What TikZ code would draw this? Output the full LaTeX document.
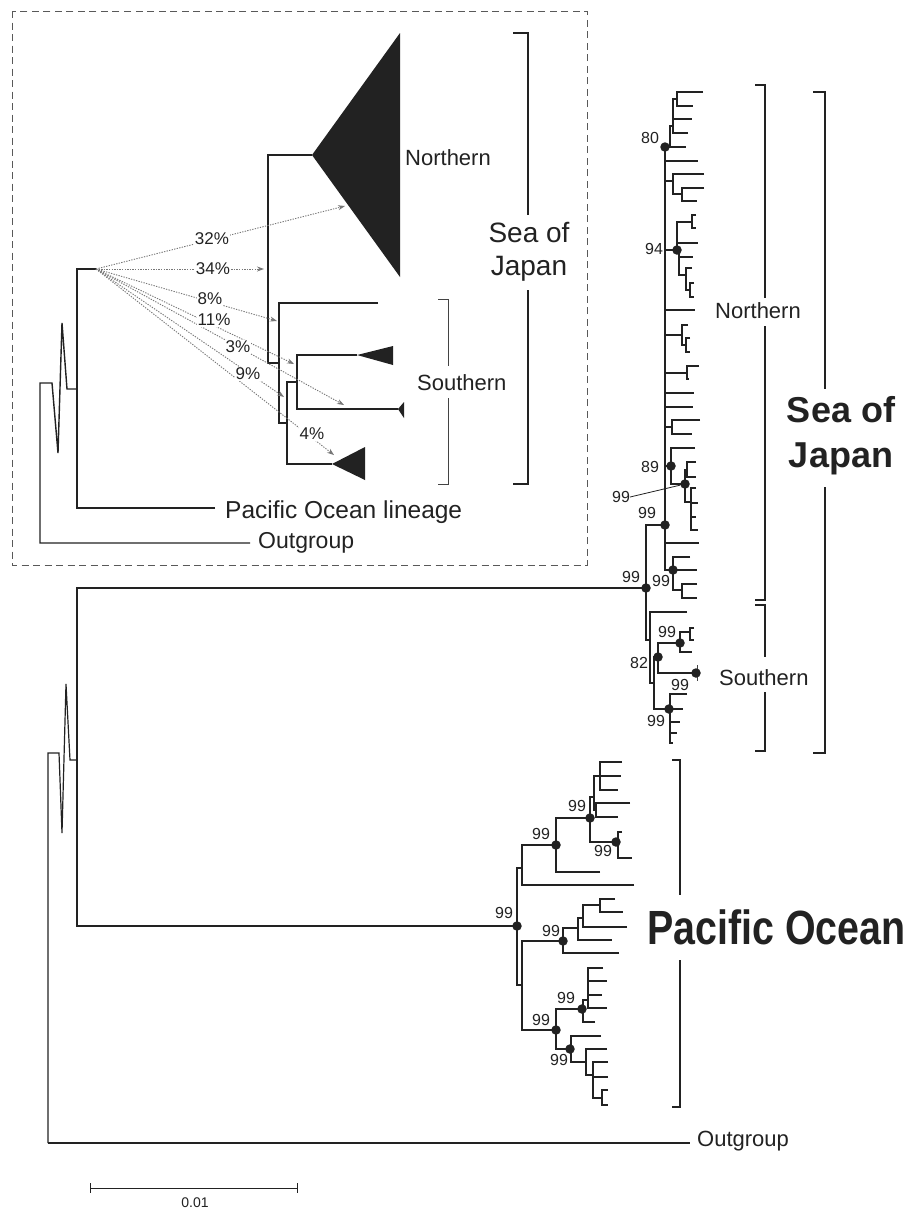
\documentclass[tikz,border=0pt]{standalone}
\usepackage{fontspec}
\setmainfont{Liberation Sans}
\newfontfamily\condsans[FakeStretch=0.82]{Liberation Sans}
\usetikzlibrary{arrows.meta}
\definecolor{ink}{HTML}{222222}
\definecolor{dotgray}{HTML}{777777}
\begin{document}
\begin{tikzpicture}[x=1pt,y=-1pt,
  tr/.style={draw=ink,line width=1.2pt},
  itr/.style={draw=ink,line width=1.4pt},
  tri/.style={fill=ink},
  dotn/.style={circle,fill=ink,inner sep=0pt,minimum size=9.5pt},
  bs/.style={font=\fontsize{16}{16}\selectfont,inner sep=0pt,text=ink},
  lbl/.style={font=\fontsize{22}{22}\selectfont,inner sep=0pt,text=ink},
  ilbl/.style={font=\fontsize{23}{23}\selectfont,inner sep=0pt,text=ink},
  pct/.style={font=\fontsize{17}{17}\selectfont,inner sep=0.6pt,fill=white,text=ink},
  parr/.style={draw=dotgray,line width=0.9pt,dash pattern=on 1.3pt off 1.3pt,-{Stealth[length=7pt,width=5pt]}},
  bigbr/.style={draw=ink,line width=2.6pt},
  midbr/.style={draw=ink,line width=1.4pt},
  thinbr/.style={draw=ink!85,line width=0.9pt},
  boxs/.style={draw=ink!75,line width=0.9pt,dash pattern=on 7pt off 4.5pt},
  sbar/.style={draw=ink,line width=1pt},
]
\fill[white] (0,0) rectangle (918,1211);
\useasboundingbox (0,0) rectangle (918,1211);

% ================= INSET =================
\draw[boxs] (12,11) rectangle (587,565);
\coordinate (src) at (96,269);
\draw[itr] (250,543) -| (40,383) -- (52,383) -- (58,453) -- (62,323) -- (67,389) -- (77,389);
\draw[itr] (215,508) -| (77,269) -- (src);
\node[ilbl,anchor=west] (iog) at (258,543) {Outgroup};
\node[ilbl,anchor=west,font=\fontsize{24.5}{24.5}\selectfont] (ipl) at (225,512) {Pacific Ocean lineage};

\coordinate (iN) at (312,155);
\coordinate (iS1) at (357,355);
\coordinate (iS2) at (398,409);
\coordinate (iS3) at (332,464);
\draw[itr] (iN) -| (268,363) -- (279,363);
\draw[itr] (378,303) -| (279,423) -- (287,423);
\draw[itr] (iS3) -| (287,382) -- (297,382);
\draw[itr] (iS1) -| (297,409) -- (iS2);
\fill[tri] (iN) -- (400,33) -- (400,277) -- cycle;
\fill[tri] (iS1) -- (393,346) -- (393,365) -- cycle;
\fill[tri] (iS2) -- (404,402) -- (404,418) -- cycle;
\fill[tri] (iS3) -- (365,447) -- (365,480) -- cycle;

\draw[parr] (src) -- (345,206);
\draw[parr] (src) -- (264,269);
\draw[parr] (src) -- (277,321);
\draw[parr] (src) -- (294,364);
\draw[parr] (src) -- (344,405);
\draw[parr] (src) -- (284,397);
\draw[parr] (src) -- (334,455);
\node[pct] (p32) at (212,239) {32\%};
\node[pct] (p34) at (213,269) {34\%};
\node[pct] (p8) at (210,299) {8\%};
\node[pct] (p11) at (214,320) {11\%};
\node[pct] (p3) at (238,347) {3\%};
\node[pct] (p9) at (248,374) {9\%};
\node[pct] (p4) at (312,434) {4\%};

\node[lbl,anchor=base west] (iNl) at (405,165) {Northern};
\node[lbl,anchor=base west] (iSl) at (417,390) {Southern};
\draw[thinbr] (438,299) -- (448,299) -- (448,366);
\draw[thinbr] (448,398) -- (448,484) -- (438,484);
\draw[midbr] (513,33) -- (528,33) -- (528,215);
\draw[midbr] (528,290) -- (528,484) -- (513,484);
\node[font=\fontsize{28}{28}\selectfont,inner sep=0pt,text=ink,anchor=base] (isj1) at (529,242) {Sea of};
\node[font=\fontsize{28}{28}\selectfont,inner sep=0pt,text=ink,anchor=base] (isj2) at (529,275) {Japan};

% ================= MAIN TREE =================
\coordinate (sojroot) at (646,588);
\coordinate (n99a) at (665,525);
\coordinate (n80) at (665,147);
\coordinate (n94) at (677,250);
\coordinate (n89) at (671,466);
\coordinate (n99b) at (685,484);
\coordinate (n99c) at (673,570);
\coordinate (n82) at (658,657);
\coordinate (n99d) at (680,643);
\coordinate (n99e) at (696,673);
\coordinate (n99f) at (669,709);
\coordinate (pacroot) at (517,926);
\coordinate (p1) at (556,845);
\coordinate (p2) at (590,818);
\coordinate (p3) at (616,842);
\coordinate (p4) at (563,941);
\coordinate (p5) at (556,1030);
\coordinate (p6) at (582,1009);
\coordinate (p7) at (570,1049);

% backbone
\draw[tr] (48,1143) -- (48,753) -- (59,753) -- (62,833) -- (66,684) -- (70,760) -- (77,760);
\draw[tr] (pacroot) -| (77,588) -- (sojroot);
\draw[tr] (48,1143) -- (690,1143);
\node[lbl,anchor=west] (og) at (697,1141) {Outgroup};

% Sea of Japan - Northern
\draw[tr] (sojroot) |- (n99a);
\draw[tr] (n99a) -- (n80);
\draw[tr] (n80) -- (686,147);
\draw[tr] (n80) -| (670,126) -- (673,126);
\draw[tr] (688,133) -| (673,99) -- (677,99);
\draw[tr] (673,119) -- (692,119);
\draw[tr] (703,92) -| (677,106) -- (693,106);
\draw[tr] (665,161) -- (698,161);
\draw[tr] (665,181) -- (673,181);
\draw[tr] (704,174) -| (673,194) -- (682,194);
\draw[tr] (704,188) -| (682,201) -- (697,201);
\draw[tr] (665,250) -- (n94);
\draw[tr] (n94) |- (692,222);
\draw[tr] (696,215) -| (692,228) -- (696,228);
\draw[tr] (677,243) -- (698,243);
\draw[tr] (n94) -| (679,275) -- (686,275);
\draw[tr] (679,257) -- (693,257);
\draw[tr] (692,268) -| (686,290) -- (690,290);
\draw[tr] (694,283) -| (690,297) -- (694,297);
\draw[tr] (665,310) -- (695,310);
\draw[tr] (665,335) -- (682,335);
\draw[tr] (688,325) -| (682,345) -- (686,345);
\draw[tr] (690,338) -| (686,352) -- (690,352);
\draw[tr] (665,373) -- (687,373);
\draw[tr] (699,366) -| (687,379) -- (689,379);
\draw[tr] (665,393) -- (694,393);
\draw[tr] (665,407) -- (693,407);
\draw[tr] (665,427) -- (672,427);
\draw[tr] (700,420) -| (672,434) -- (692,434);
\draw[tr] (665,466) -- (n89);
\draw[tr] (695,448) -| (671,484) -- (n99b);
\draw[tr] (n99b) |- (687,470);
\draw[tr] (696,462) -| (687,477) -- (696,477);
\draw[tr] (n99b) |- (691,502);
\draw[tr] (696,488) -| (691,530) -- (698,530);
\draw[tr] (691,503) -- (698,503);
\draw[tr] (691,517) -- (696,517);
\draw[tr] (n99a) |- (n99c);
\draw[tr] (665,543) -- (699,543);
\draw[tr] (690,557) -| (673,590) -- (682,590);
\draw[tr] (n99c) -- (697,570);
\draw[tr] (697,584) -| (682,598) -- (697,598);

% Sea of Japan - Southern
\draw[tr] (sojroot) |- (650,640);
\draw[tr] (687,612) -| (650,683) -- (654,683);
\draw[tr] (n82) -| (654,709) -- (n99f);
\draw[tr] (n99d) -| (658,673) -- (n99e);
\draw[tr] (n99d) |- (690,632);
\draw[tr] (694,628) -| (690,640) -- (694,640);
\draw[tr] (n99d) |- (692,652);
\draw[thinbr] (697,665) -- (697,681);
\draw[tr] (687,694) -| (670,743) -- (673,743);
\draw[tr] (n99f) -- (683,709);
\draw[tr] (670,722) -- (680,722);
\draw[tr] (670,733) -- (677,733);

% Pacific
\draw[tr] (pacroot) -- (517,868) -- (522,868);
\draw[tr] (pacroot) -- (517,985) -- (522,985);
\draw[tr] (634,885) -| (522,845) -- (p1);
\draw[tr] (600,872) -| (556,818) -- (p2);
\draw[tr] (p3) -| (590,797) -- (594,797);
\draw[tr] (600,776) -| (594,810) -- (596,810);
\draw[tr] (622,762) -| (600,790) -- (618,790);
\draw[tr] (600,776) -- (621,776);
\draw[tr] (630,803) -| (596,817) -- (618,817);
\draw[tr] (622,832) -| (618,858) -- (632,858);
\draw[tr] (p4) -| (522,1030) -- (p5);
\draw[tr] (619,953) -| (563,928) -- (578,928);
\draw[tr] (583,918) -| (578,940) -- (612,940);
\draw[tr] (627,927) -| (583,905) -- (600,905);
\draw[tr] (615,899) -| (600,912) -- (623,912);
\draw[tr] (p6) -| (556,1049) -- (p7);
\draw[tr] (p6) -- (583,1009);
\draw[tr] (595,1022) -| (583,1000) -- (588,1000);
\draw[tr] (603,968) -| (588,1008) -- (607,1008);
\draw[tr] (588,981) -- (607,981);
\draw[tr] (588,995) -- (602,995);
\draw[tr] (601,1036) -| (571,1062) -- (586,1062);
\draw[tr] (607,1049) -| (586,1075) -- (593,1075);
\draw[tr] (608,1062) -| (593,1098) -- (602,1098);
\draw[tr] (593,1077) -- (608,1077);
\draw[tr] (608,1090) -| (602,1105) -- (608,1105);

% support dots
\foreach \n in {sojroot,n99a,n80,n94,n89,n99b,n99c,n82,n99d,n99e,n99f,pacroot,p1,p2,p3,p4,p5,p6,p7}
  \node[dotn] (d-\n) at (\n) {};

% support labels
\node[bs] (l80) at (650,138) {80};
\node[bs] (l94) at (654,249) {94};
\node[bs] (l89) at (650,467) {89};
\node[bs] (l99b) at (621,497) {99};
\draw[ink,line width=0.8pt] (l99b.east) -- (d-n99b);
\node[bs] (l99a) at (647,513) {99};
\node[bs] (l99c) at (661,581) {99};
\node[bs] (lroot) at (631,577) {99};
\node[bs] (l99d) at (667,632) {99};
\node[bs] (l82) at (639,663) {82};
\node[bs] (l99e) at (680,685) {99};
\node[bs] (l99f) at (656,721) {99};
\node[bs] (lpr) at (504,913) {99};
\node[bs] (lp1) at (541,834) {99};
\node[bs] (lp2) at (577,806) {99};
\node[bs] (lp3) at (603,851) {99};
\node[bs] (lp4) at (551,931) {99};
\node[bs] (lp5) at (541,1020) {99};
\node[bs] (lp6) at (566,998) {99};
\node[bs] (lp7) at (559,1060) {99};

% brackets and clade names
\draw[midbr] (755,85) -- (765,85) -- (765,298);
\draw[midbr] (765,326) -- (765,600) -- (755,600);
\node[lbl,anchor=base west] (mN) at (715,318) {Northern};
\draw[midbr] (755,605) -- (765,605) -- (765,657);
\draw[midbr] (765,692) -- (765,751) -- (755,751);
\node[lbl,anchor=base west] (mS) at (719,685) {Southern};
\draw[bigbr] (813,92) -- (825,92) -- (825,389);
\draw[bigbr] (825,487) -- (825,753) -- (813,753);
\node[font=\fontsize{36}{36}\selectfont\bfseries,inner sep=0pt,text=ink,anchor=base] (sj1) at (841,422) {Sea of};
\node[font=\fontsize{36}{36}\selectfont\bfseries,inner sep=0pt,text=ink,anchor=base] (sj2) at (841,467) {Japan};
\draw[bigbr] (672,760) -- (680,760) -- (680,895);
\draw[bigbr] (680,960) -- (680,1107) -- (672,1107);
\node[font=\condsans\fontsize{48}{48}\selectfont\bfseries,inner sep=0pt,text=ink,anchor=west] (po) at (647,927) {Pacific Ocean};

% scale bar
\draw[sbar] (90,1183) -- (90,1193);
\draw[sbar] (90,1188) -- (297,1188);
\draw[sbar] (297,1183) -- (297,1193);
\node[font=\fontsize{14}{14}\selectfont,inner sep=0pt,text=ink] (sc) at (195,1203) {0.01};
\end{tikzpicture}
\end{document}
